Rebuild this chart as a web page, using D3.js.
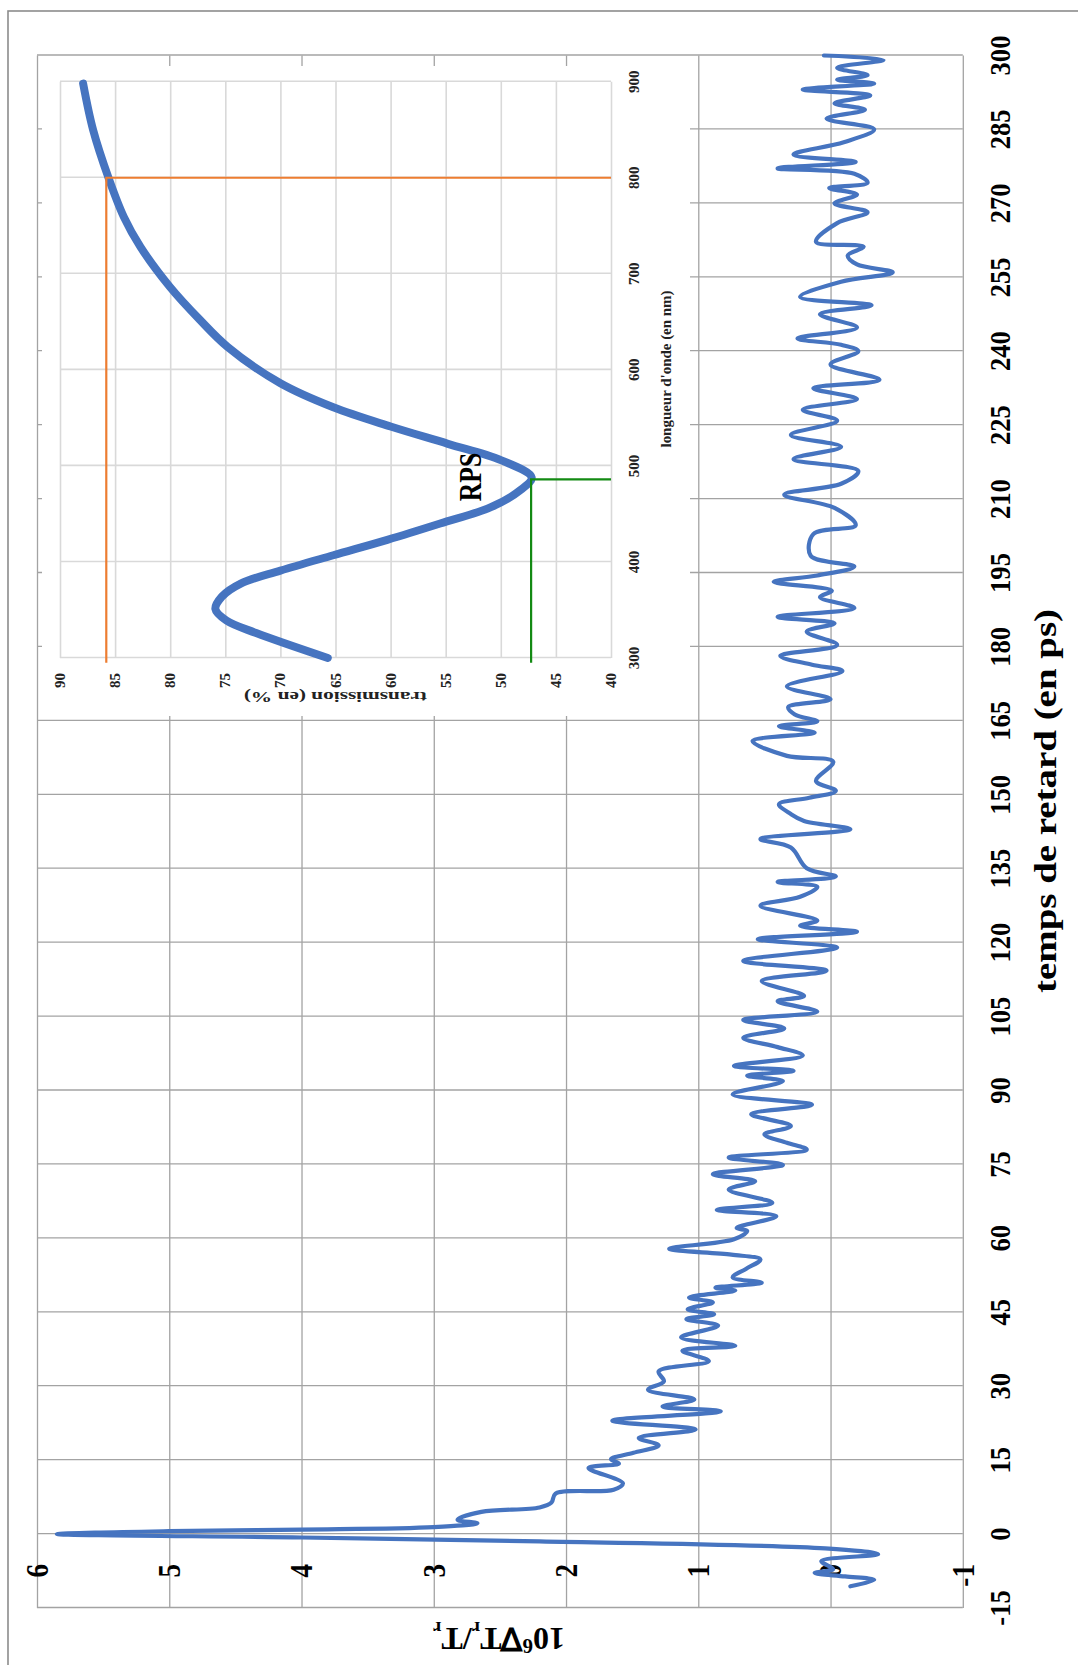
<!DOCTYPE html>
<html><head><meta charset="utf-8">
<script src="https://cdn.jsdelivr.net/npm/d3@7"></script>
<style>html,body{margin:0;padding:0;background:#fff;} svg{display:block}</style>
</head><body>
<svg id="chart" width="1078" height="1665"></svg>
<script>
// ---------- data ----------
const timeTicks = [-15,0,15,30,45,60,75,90,105,120,135,150,165,180,195,210,225,240,255,270,285,300];
const valueTicks = [-1,0,1,2,3,4,5,6];
const timePs = [-10.6,-9.3,-8.6,-7.9,-7.1,-5.5,-4.1,-2.9,-1.5,-0.7,0.0,0.6,0.9,1.4,2.2,2.9,4.5,5.4,6.4,8.2,
 9.0,10.3,13.4,14.3,15.2,16.5,18.0,19.5,21.2,23.0,24.9,25.9,27.3,29.3,31.0,33.0,35.1,37.2,38.2,39.9,
 42.3,43.6,44.6,45.6,47.0,48.0,49.4,50.0,51.0,52.1,53.8,55.7,56.7,57.9,59.8,61.5,62.1,64.5,65.8,67.2,
 69.9,71.6,73.0,74.9,76.4,78.0,79.4,81.1,82.8,85.2,87.1,89.2,91.9,93.0,94.0,95.0,97.1,98.8,100.7,102.6,
 104.3,106.0,108.1,109.2,112.2,114.3,116.3,119.0,120.7,122.2,123.4,124.5,127.5,129.3,131.3,132.3,133.4,135.1,139.3,141.0,
 143.0,144.7,146.1,148.1,149.4,150.8,152.8,156.7,157.9,160.9,162.6,163.9,164.9,166.3,167.8,169.4,172.0,175.1,176.4,178.2,
 180.4,183.1,184.8,186.1,187.9,190.1,191.4,193.2,194.5,196.3,198.5,202.9,204.7,208.2,210.9,213.1,215.7,218.1,220.6,223.0,
 225.9,228.1,230.3,232.5,234.2,237.3,240.0,241.3,242.6,244.8,247.5,249.3,251.0,254.1,256.0,257.6,259.4,261.2,262.2,266.0,
 268.2,270.0,271.8,273.1,274.2,276.0,277.1,278.4,279.9,282.4,285.0,287.2,289.0,290.3,291.9,293.1,294.3,295.1,296.0,297.5,
 299.1,300.0];
const signal = [-0.15,-0.33,-0.11,0.12,-0.02,0.07,-0.36,0.04,2.2,4.0,5.85,5.0,4.0,3.0,2.67,2.82,2.64,2.2,2.11,2.08,
 1.64,1.57,1.83,1.60,1.66,1.49,1.30,1.45,1.02,1.65,0.83,1.27,1.03,1.38,1.26,1.30,0.92,1.12,0.72,1.13,
 0.85,1.09,0.88,1.08,0.89,1.07,0.72,0.87,0.52,0.74,0.64,0.53,0.75,1.22,0.73,0.63,0.71,0.41,0.86,0.44,
 0.77,0.57,0.89,0.36,0.77,0.18,0.33,0.50,0.30,0.60,0.14,0.74,0.36,0.63,0.28,0.73,0.21,0.40,0.66,0.35,
 0.66,0.10,0.40,0.20,0.52,0.03,0.66,-0.05,0.55,-0.20,0.23,0.10,0.53,0.23,0.10,0.40,-0.04,0.18,0.30,0.53,
 -0.15,0.20,0.30,0.39,0.16,-0.04,0.11,-0.02,0.33,0.59,0.12,0.39,0.10,0.27,0.32,0.0,0.33,-0.09,0.14,0.38,
 -0.05,0.18,-0.03,0.40,-0.18,0.08,-0.01,0.43,0.10,-0.18,0.15,0.13,-0.19,-0.03,0.35,-0.08,-0.21,0.28,-0.08,0.30,
 -0.05,0.21,-0.20,0.13,-0.37,0.0,-0.21,-0.08,0.25,-0.20,0.08,-0.31,0.23,-0.08,-0.47,-0.20,-0.13,-0.25,0.11,-0.05,
 -0.28,-0.03,-0.20,0.01,-0.28,-0.18,0.40,-0.19,0.28,-0.10,-0.33,0.03,-0.26,-0.03,-0.30,0.21,-0.33,-0.05,-0.28,-0.05,
 -0.40,0.05];

const wlTicks = [300,400,500,600,700,800,900];
const trTicks = [40,45,50,55,60,65,70,75,80,85,90];
const wavelengthNm = [300,326,339,351,364,377.5,391,407,423,440,457,475,488,506,523,541,561,586,624,652,686,728,759,800,850,898];
const transmissionPct = [65.7,72.2,74.9,75.9,75.3,73.6,70.0,65.2,60.3,55.5,50.9,48.2,47.2,50.0,54.8,60.0,65.2,70.0,74.8,77.3,80.0,82.7,84.2,85.6,87.0,87.9];
const markerWl = [800, 486];
const markerTr = [85.8, 47.25];
const markerColors = ["#ED7D31", "#138a13"];
const markerWlStart = 295;

// ---------- layout ----------
const svg = d3.select("#chart");
const W = 1665, H = 1078;
const root = svg.append("g").attr("transform", `translate(0,${W}) rotate(-90)`);
const serif = "'Liberation Serif','Times New Roman',serif";

root.append("rect").attr("x",-20).attr("y",8).attr("width",1674).attr("height",1100)
  .attr("fill","none").attr("stroke","#8c8c8c").attr("stroke-width",1.6);

const tScale = d3.scaleLinear().domain([-15,300]).range([57,1609.5]);
const vScale = d3.scaleLinear().domain([-1,6]).range([962.8,37]);

// grid
const grid = root.append("g");
grid.append("g").attr("transform",`translate(0,${vScale(-1)})`)
  .call(d3.axisBottom(tScale).tickValues(timeTicks).tickSize(-(vScale(-1)-vScale(6))).tickFormat(""))
  .call(g=>{g.select(".domain").remove(); g.selectAll("line").attr("stroke","#a3a3a3").attr("stroke-width",1.3);});
grid.append("g").attr("transform",`translate(${tScale(-15)},0)`)
  .call(d3.axisLeft(vScale).tickValues(valueTicks).tickSize(-(tScale(300)-tScale(-15))).tickFormat(""))
  .call(g=>{g.select(".domain").remove(); g.selectAll("line").attr("stroke","#a3a3a3").attr("stroke-width",1.3);});

// time labels
root.append("g").selectAll("text").data(timeTicks).join("text")
  .attr("transform", d=>`translate(${tScale(d)},1010) scale(0.9,1)`)
  .attr("text-anchor","middle").attr("font-family",serif).attr("font-weight","bold")
  .attr("font-size",29.5).attr("fill","#000").text(d=>String(d));

// value labels
root.append("g").selectAll("text").data(valueTicks).join("text")
  .attr("transform", d=>`translate(101,${vScale(d)}) scale(0.85,1)`)
  .attr("text-anchor","end").attr("dominant-baseline","central").attr("font-family",serif).attr("font-weight","bold")
  .attr("font-size",32).attr("fill","#000").text(d=>String(d));

// axis titles
root.append("text").attr("x",864).attr("y",1056).attr("text-anchor","middle")
  .attr("font-family",serif).attr("font-weight","bold").attr("font-size",31)
  .attr("textLength",384).attr("lengthAdjust","spacingAndGlyphs").text("temps de retard (en ps)");

const yt = root.append("text").attr("transform","translate(37,499) rotate(-90)").attr("text-anchor","middle")
  .attr("font-family",serif).attr("font-weight","bold").attr("font-size",32);
yt.append("tspan").text("10");
yt.append("tspan").attr("font-size",21).attr("dy",-11).text("6");
yt.append("tspan").attr("dy",11).text("\u2207T");
yt.append("tspan").attr("font-size",19).attr("dy",6).text("r");
yt.append("tspan").attr("dy",-6).text("/T");
yt.append("tspan").attr("font-size",19).attr("dy",6).text("r");

// ---------- inset ----------
const inset = root.append("g");
inset.append("rect").attr("x",949).attr("y",42).attr("width",650).attr("height",648).attr("fill","#fff");
const wScale = d3.scaleLinear().domain([300,900]).range([1007,1583.3]);
const trScale = d3.scaleLinear().domain([40,90]).range([611,60]);

inset.append("g").attr("transform",`translate(0,${trScale(40)})`)
  .call(d3.axisBottom(wScale).tickValues(wlTicks).tickSize(-(trScale(40)-trScale(90))).tickFormat(""))
  .call(g=>{g.select(".domain").remove(); g.selectAll("line").attr("stroke","#d9d9d9").attr("stroke-width",1.6);});
inset.append("g").attr("transform",`translate(${wScale(300)},0)`)
  .call(d3.axisLeft(trScale).tickValues(trTicks).tickSize(-(wScale(900)-wScale(300))).tickFormat(""))
  .call(g=>{g.select(".domain").remove(); g.selectAll("line").attr("stroke","#d9d9d9").attr("stroke-width",1.6);});

inset.append("g").selectAll("text").data(wlTicks).join("text")
  .attr("x",d=>wScale(d)).attr("y",639).attr("text-anchor","middle")
  .attr("font-family",serif).attr("font-weight","bold").attr("font-size",15).attr("fill","#222").text(d=>String(d));
inset.append("g").selectAll("text").data(trTicks).join("text")
  .attr("x",992).attr("y",d=>trScale(d)).attr("text-anchor","end").attr("dominant-baseline","central")
  .attr("font-family",serif).attr("font-weight","bold").attr("font-size",15).attr("fill","#222").text(d=>String(d));

inset.append("text").attr("x",1296).attr("y",671).attr("text-anchor","middle")
  .attr("font-family",serif).attr("font-weight","bold").attr("font-size",15).attr("fill","#222")
  .attr("textLength",157).attr("lengthAdjust","spacingAndGlyphs").text("longueur d'onde (en nm)");
inset.append("text").attr("transform",`translate(973,${(trScale(40)+trScale(90))/2}) rotate(-90)`).attr("text-anchor","middle")
  .attr("font-family",serif).attr("font-weight","bold").attr("font-size",15).attr("fill","#222")
  .attr("textLength",183).attr("lengthAdjust","spacingAndGlyphs").text("transmission (en %)");

const insetLine = d3.line().x((d,i)=>wScale(wavelengthNm[i])).y((d,i)=>trScale(transmissionPct[i])).curve(d3.curveCatmullRom.alpha(0.5));
inset.append("path").attr("d",insetLine(wavelengthNm)).attr("fill","none")
  .attr("stroke","#4674c0").attr("stroke-width",8).attr("stroke-linecap","round").attr("stroke-linejoin","round");

markerWl.forEach((w,i)=>{
  const tr = markerTr[i];
  inset.append("path")
    .attr("d",`M${wScale(w)},${trScale(40)}L${wScale(w)},${trScale(tr)}L${wScale(markerWlStart)},${trScale(tr)}`)
    .attr("fill","none").attr("stroke",markerColors[i]).attr("stroke-width",2.2);
});

inset.append("text").attr("transform","translate(1188,481) scale(0.8,1)").attr("text-anchor","middle")
  .attr("font-family",serif).attr("font-weight","bold").attr("font-size",32).attr("fill","#000").text("RPS");

// ---------- main series ----------
const mainLine = d3.line().x((d,i)=>tScale(timePs[i])).y((d,i)=>vScale(signal[i])).curve(d3.curveCatmullRom.alpha(0.5));
root.append("path").attr("d",mainLine(timePs)).attr("fill","none")
  .attr("stroke","#4674c0").attr("stroke-width",4.2).attr("stroke-linejoin","round").attr("stroke-linecap","round");
</script>
</body></html>
